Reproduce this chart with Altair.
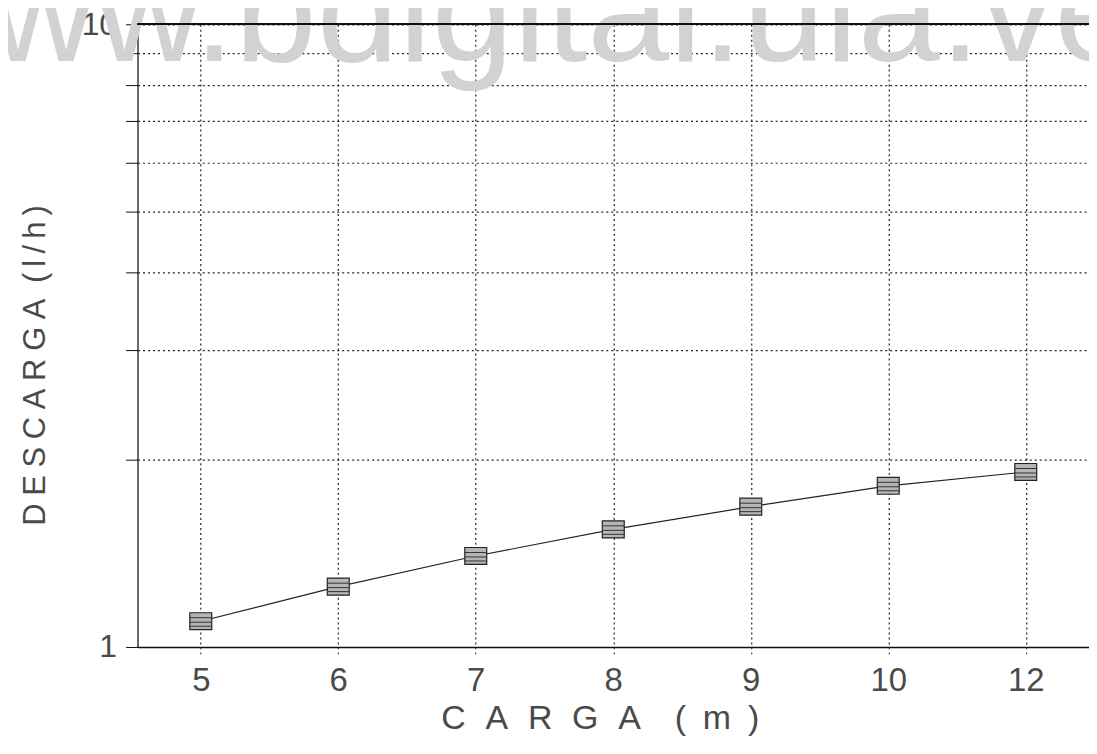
import altair as alt
import pandas as pd

carga = ["5", "6", "7", "8", "9", "10", "12"]
descarga = [1.10, 1.25, 1.40, 1.545, 1.68, 1.815, 1.91]
y_ticks = [1, 2, 3, 4, 5, 6, 7, 8, 9, 10]
watermark = ["www.bdigital.ula.ve"]

df = pd.DataFrame({"carga": carga, "descarga": descarga})
wm = pd.DataFrame({"t": watermark})

FONT = "Liberation Sans"
TXT = "#4a4a4a"
gap = "\u2002\u200a"
x_title = gap.join(list("CARGA")) + "\u2003" + "(\u2002m\u2002)"
y_title = "\u2005".join(list("DESCARGA")) + "\u2002" + "(\u2009l\u2009/\u2009h\u2009)"

x_enc = alt.X(
    "carga:O",
    sort=carga,
    scale=alt.Scale(type="point", padding=0.46),
    axis=alt.Axis(
        title=x_title,
        labelAngle=0,
        labelFont=FONT,
        labelFontSize=33,
        labelColor=TXT,
        labelPadding=10,
        tickSize=8,
        tickColor="#333",
        tickDash=[2, 3],
        domainColor="#111",
        domainWidth=1.5,
        grid=True,
        gridColor="#222",
        gridDash=[2, 3],
        gridWidth=1.2,
        titleFont=FONT,
        titleFontSize=34,
        titleFontWeight="normal",
        titleColor=TXT,
        titleX=464,
        titleY=82,
        titleBaseline="alphabetic",
    ),
)

y_enc = alt.Y(
    "descarga:Q",
    scale=alt.Scale(type="log", domain=[1, 10], nice=False),
    axis=alt.Axis(
        title=y_title,
        values=y_ticks,
        labelExpr="datum.value == 1 || datum.value == 10 ? datum.value : ''",
        labelFont=FONT,
        labelFontSize=32,
        labelColor=TXT,
        labelPadding=9,
        tickSize=12,
        tickColor="#111",
        domainColor="#111",
        domainWidth=1.2,
        grid=True,
        gridColor="#222",
        gridDash=[2, 3],
        gridWidth=1.2,
        titleFont=FONT,
        titleFontSize=31,
        titleFontWeight="normal",
        titleColor=TXT,
        titleAngle=-90,
        titleX=-93,
        titleY=342,
        titleAlign="center",
        titleBaseline="alphabetic",
    ),
)

wm_layer = alt.Chart(wm).mark_text(
    font=FONT, fontSize=148, color="#d2d2d2", align="left", baseline="alphabetic"
).encode(x=alt.value(-256), y=alt.value(37), text="t:N")

top_line = alt.Chart(df).mark_rule(color="#111", strokeWidth=1.5).encode(
    y=alt.datum(10)
)

line = alt.Chart(df).mark_line(color="#222", strokeWidth=1.2).encode(x=x_enc, y=y_enc)

box_path = "M-1.1,-0.85H1.1V0.85H-1.1Z"
boxes = alt.Chart(df).mark_point(
    shape=box_path, size=400, filled=True, fill="#b5b5b5", stroke="#222",
    strokeWidth=1.2, opacity=1
).encode(x=x_enc, y=y_enc)

hatch = alt.Chart(df).mark_point(
    shape="M-1.1,-0.35H1.1M-1.1,0.1H1.1M-1.1,0.5H1.1",
    size=400, filled=False, stroke="#333", strokeWidth=1, opacity=1
).encode(x=x_enc, y=y_enc)

chart = alt.layer(wm_layer, top_line, line, boxes, hatch).properties(
    width=955,
    height=625,
    autosize=alt.AutoSizeParams(type="none"),
    padding={"left": 130, "top": 15, "right": 0, "bottom": 90},
).configure_view(stroke=None).configure(background="white")

chart.save("out.html", embed_options={"renderer": "svg", "actions": False})
